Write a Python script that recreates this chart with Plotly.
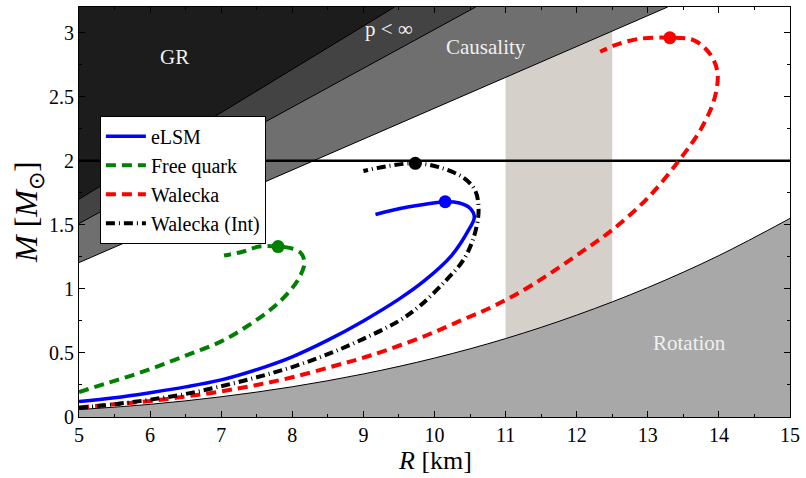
import plotly.graph_objects as go

# ---- data ----
elsm_R = [5.0, 5.5, 6.0, 6.5, 7.0, 7.5, 8.0, 8.5, 9.0, 9.5, 9.85, 10.24, 10.48, 10.56, 10.5, 10.35, 10.15, 9.8, 9.5, 9.17]
elsm_M = [0.12, 0.15, 0.19, 0.235, 0.29, 0.37, 0.47, 0.60, 0.75, 0.92, 1.06, 1.26, 1.46, 1.56, 1.63, 1.67, 1.68, 1.655, 1.625, 1.58]

quark_R = [5.0, 5.4, 5.8, 6.2, 6.6, 7.0, 7.37, 7.72, 7.96, 8.1, 8.17, 8.12, 7.96, 7.8, 7.53, 7.3, 7.04]
quark_M = [0.195, 0.265, 0.335, 0.415, 0.50, 0.59, 0.71, 0.85, 0.98, 1.09, 1.2, 1.28, 1.32, 1.33, 1.33, 1.29, 1.26]

walecka_R = [5.0, 5.5, 6.0, 6.5, 7.0, 7.5, 8.0, 8.6, 9.1, 9.9, 10.4, 10.85, 11.4, 12.15, 12.5, 13.0, 13.45, 13.75, 13.94, 13.98, 13.88, 13.65, 13.31, 12.86, 12.53, 12.33]
walecka_M = [0.075, 0.10, 0.125, 0.16, 0.20, 0.25, 0.31, 0.40, 0.48, 0.64, 0.76, 0.87, 1.04, 1.32, 1.46, 1.71, 2.01, 2.25, 2.49, 2.69, 2.83, 2.94, 2.96, 2.95, 2.90, 2.85]

wint_R = [5.0, 5.5, 6.0, 6.5, 7.0, 7.5, 8.0, 8.5, 9.0, 9.5, 9.8, 10.15, 10.4, 10.55, 10.62, 10.57, 10.4, 10.06, 9.73, 9.36, 9.0]
wint_M = [0.07, 0.10, 0.135, 0.18, 0.24, 0.31, 0.39, 0.49, 0.61, 0.75, 0.87, 1.06, 1.22, 1.40, 1.61, 1.77, 1.87, 1.95, 1.98, 1.96, 1.92]

# maximum-mass points
peak_R = {"eLSM": 10.15, "Free quark": 7.8, "Walecka": 13.31, "Walecka (Int)": 9.73}
peak_M = {"eLSM": 1.68, "Free quark": 1.33, "Walecka": 2.96, "Walecka (Int)": 1.98}

# constraint boundaries
gr_R, gr_M = [5.0, 9.44], [1.70, 3.2]
pinf_R, pinf_M = [5.0, 10.58], [1.51, 3.2]
caus_R, caus_M = [5.0, 13.28], [1.205, 3.2]
rot_R = [5, 6, 7, 8, 9, 10, 11, 12, 13, 14, 15]
rot_M = [0.058, 0.099, 0.158, 0.236, 0.336, 0.46, 0.612, 0.795, 1.01, 1.26, 1.55]
band_R = [11.0, 12.5]
hline_M = 2.0
x_range = [5, 15]
y_range = [0, 3.2]

FONT = "Liberation Serif, Times New Roman, serif"

fig = go.Figure()

# observational band (beneath everything)
fig.add_trace(go.Scatter(x=[band_R[0], band_R[1], band_R[1], band_R[0]],
                         y=[y_range[0], y_range[0], y_range[1], y_range[1]],
                         fill="toself", fillcolor="#d5d1ca", line=dict(width=0),
                         mode="lines", showlegend=False, hoverinfo="skip"))

# rotation region
fig.add_trace(go.Scatter(x=rot_R, y=rot_M, fill="tozeroy", fillcolor="#a8a8a8",
                         line=dict(color="black", width=1, shape="spline", smoothing=1),
                         mode="lines", showlegend=False, hoverinfo="skip"))

# upper excluded regions
for bx, by, col in [(caus_R, caus_M, "#6f6f6f"), (pinf_R, pinf_M, "#434343"), (gr_R, gr_M, "#1c1c1c")]:
    fig.add_trace(go.Scatter(x=[bx[0], bx[1], bx[0]], y=[by[0], by[1], y_range[1]],
                             fill="toself", fillcolor=col, line=dict(width=0),
                             mode="lines", showlegend=False, hoverinfo="skip"))
    fig.add_trace(go.Scatter(x=bx, y=by, mode="lines", line=dict(color="black", width=1),
                             showlegend=False, hoverinfo="skip"))

# 2 solar mass line
fig.add_trace(go.Scatter(x=x_range, y=[hline_M, hline_M], mode="lines",
                         line=dict(color="black", width=2.5), showlegend=False, hoverinfo="skip"))

series = [
    ("eLSM", elsm_R, elsm_M, "#0000ff", "solid", 3.5),
    ("Free quark", quark_R, quark_M, "#008000", "10px,6px", 4),
    ("Walecka", walecka_R, walecka_M, "#ff0000", "10px,6px", 4),
    ("Walecka (Int)", wint_R, wint_M, "#000000", "9px,4px,1px,4px", 4),
]
for i, (name, xs, ys, col, dash, w) in enumerate(series):
    fig.add_trace(go.Scatter(x=xs, y=ys, mode="lines", name=name,
                             line=dict(color=col, dash=dash, width=w, shape="spline", smoothing=1),
                             legendgroup=name, legendrank=i + 1))
for name, xs, ys, col, dash, w in series:
    fig.add_trace(go.Scatter(x=[peak_R[name]], y=[peak_M[name]], mode="markers",
                             marker=dict(color=col, size=13), showlegend=False,
                             legendgroup=name, hoverinfo="skip"))

labels = [("GR", 6.34, 2.81), ("p < ∞", 9.36, 3.03), ("Causality", 10.73, 2.89), ("Rotation", 13.59, 0.58)]
for t, x, y in labels:
    fig.add_annotation(x=x, y=y, text=t, showarrow=False,
                       font=dict(family=FONT, size=21, color="#f0f0f0"))

fig.add_annotation(x=0.5, y=0, xref="paper", yref="paper", yshift=-60,
                   xanchor="center", yanchor="bottom",
                   text="<i>R</i> [km]", showarrow=False,
                   font=dict(family=FONT, size=26, color="black"))
fig.add_annotation(x=0, y=0.5, xref="paper", yref="paper", xshift=-51,
                   xanchor="center", yanchor="middle",
                   text="<i>M</i> [<i>M</i><sub>⊙</sub>]", showarrow=False, textangle=-90,
                   font=dict(family=FONT, size=32, color="black"))

axis_common = dict(showline=True, linecolor="black", linewidth=1, mirror="allticks",
                   ticks="inside", ticklen=6, tickwidth=1, tickcolor="black",
                   showgrid=False, zeroline=False,
                   tickfont=dict(family=FONT, size=20, color="black"))
fig.update_xaxes(range=x_range, dtick=1, tick0=5,
                 minor=dict(dtick=0.5, ticks="inside", ticklen=3, tickcolor="black"),
                 **axis_common)
fig.update_yaxes(range=y_range, dtick=0.5, tick0=0,
                 minor=dict(dtick=0.25, ticks="inside", ticklen=3, tickcolor="black"),
                 **axis_common)

fig.update_layout(
    width=806, height=478,
    margin=dict(l=79, r=13, t=6, b=61),
    plot_bgcolor="white", paper_bgcolor="white",
    showlegend=True,
    legend=dict(x=0.0294, y=0.735, xanchor="left", yanchor="top",
                bgcolor="white", bordercolor="black", borderwidth=1,
                font=dict(family=FONT, size=20, color="black"),
                traceorder="normal", itemwidth=40),
)

fig.write_html("out.html")
